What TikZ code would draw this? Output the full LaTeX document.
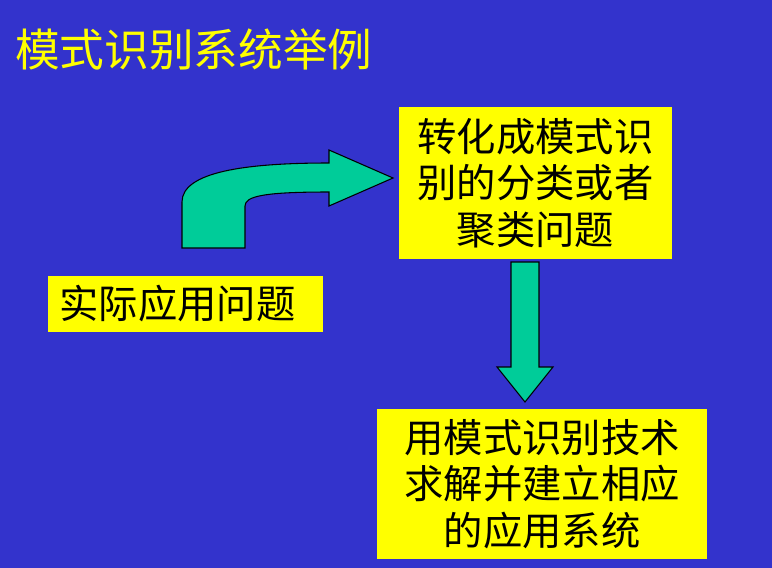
\documentclass[tikz,border=0pt]{standalone}
\usepackage{fontspec}
\setmainfont{Noto Sans CJK SC}
\newfontfamily\cjk{Noto Sans CJK SC}
\definecolor{bgblue}{HTML}{3333CC}
\definecolor{boxyellow}{HTML}{FFFF00}
\definecolor{arrowgreen}{HTML}{00CC99}
\begin{document}
\begin{tikzpicture}[x=0.75pt,y=-0.75pt,
  ybox/.style={fill=boxyellow,draw=none,inner sep=0pt,align=center,
    font=\cjk\fontsize{29.5}{35}\selectfont,text=black},
  garrow/.style={fill=arrowgreen,draw=black,line width=0.8pt,line join=miter}]
\fill[bgblue] (0,0) rectangle (772,568);
\useasboundingbox (0,0) rectangle (772,568);
\node[anchor=west,text=boxyellow,font=\cjk\fontsize{33.5}{38}\selectfont,inner sep=0pt] (title) at (15,49) {模式识别系统举例};
\node[ybox,minimum width=204.75pt,minimum height=114pt] (conv) at (535.5,183) {转化成模式识\\别的分类或者\\聚类问题};
\node[ybox,minimum width=206.25pt,minimum height=42pt] (real) at (185.5,304) {实际应用问题\hspace*{12pt}};
\node[ybox,minimum width=247.5pt,minimum height=112.5pt] (solve) at (542,484) {用模式识别技术\\求解并建立相应\\的应用系统};
% curved arrow
\draw[garrow] (182,248) -- (182,202) .. controls (182,172) and (245,163) .. (329,163)
  -- (329,150) -- (393,178) -- (329,206) -- (329,192)
  .. controls (265,192) and (245,196) .. (245,206) -- (245,248) -- cycle;
% down arrow
\draw[garrow] (511,262) -- (539,262) -- (539,367) -- (553,367) -- (525,402) -- (497,367) -- (511,367) -- cycle;
\end{tikzpicture}
\end{document}
